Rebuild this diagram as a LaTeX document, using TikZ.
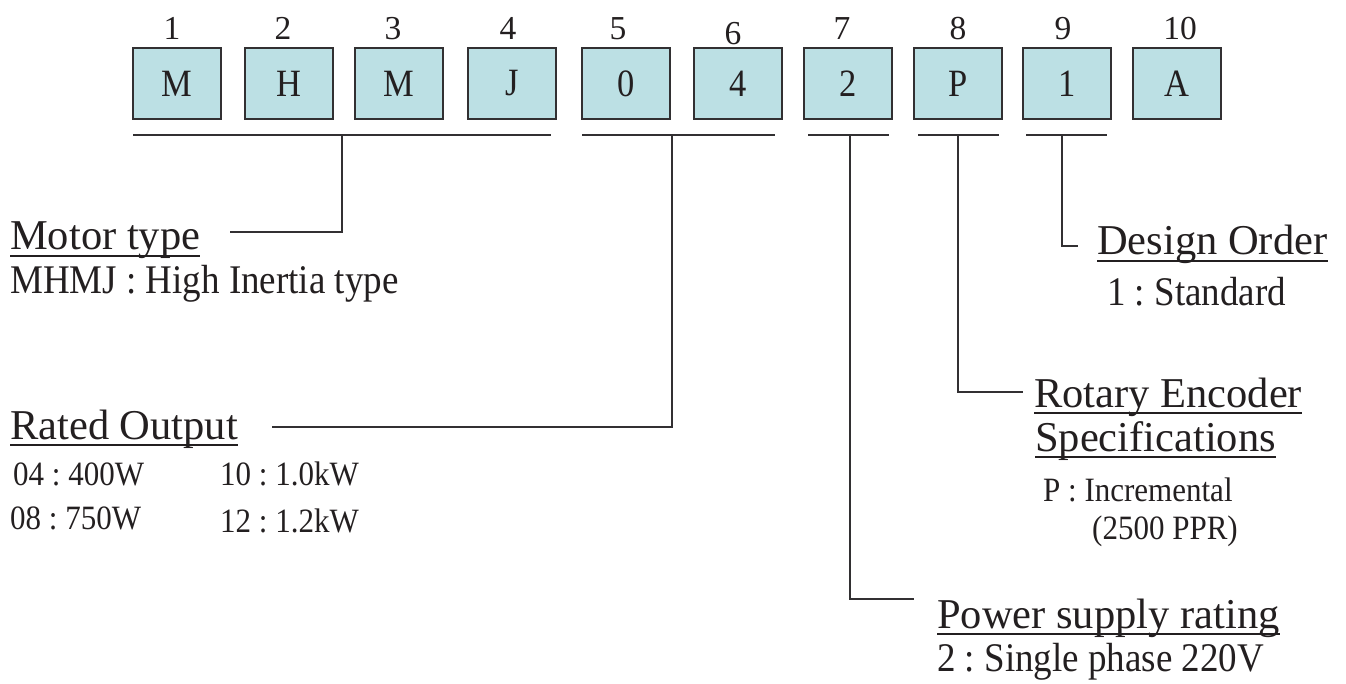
\documentclass[tikz,border=0pt]{standalone}
\usepackage{fontspec}
\usepackage{graphicx}
\setmainfont{Liberation Serif}
\frenchspacing
\definecolor{boxfill}{RGB}{188,224,228}
\definecolor{ink}{RGB}{35,31,32}
\definecolor{lin}{RGB}{50,48,50}
\newcommand{\tallA}[1]{\scalebox{1}[1.12]{#1}}
\newcommand{\tallB}[1]{\scalebox{1}[1.1]{#1}}
\begin{document}
\begin{tikzpicture}[x=1pt,y=-1pt,
  codebox/.style={draw=lin,line width=2.4pt,fill=boxfill,minimum width=88pt,minimum height=71pt,inner sep=0pt,text=ink,font=\fontsize{34.5}{40}\selectfont},
  numlbl/.style={anchor=base,inner sep=0pt,text=ink,font=\fontsize{33.5}{40}\selectfont},
  title/.style={anchor=base west,inner sep=0pt,text=ink,font=\fontsize{42.5}{50}\selectfont},
  desc/.style={anchor=base west,inner sep=0pt,text=ink,font=\fontsize{37}{44}\selectfont},
  small/.style={anchor=base west,inner sep=0pt,text=ink,font=\fontsize{31}{38}\selectfont},
  conn/.style={draw=lin,line width=2pt},
  uline/.style={draw=ink,line width=2pt}]
\useasboundingbox (0,0) rectangle (1346,684);
% boxes
\foreach \i/\x/\t in {1/133/M,2/245/H,3/355/M,4/468/J,5/582/0,6/694/4,7/804/2,8/914/P,9/1023/1,10/1133/A}{
  \node[codebox] (b\i) at (\x+44,83.5) {\tallA{\t}};
}
% position numbers
\foreach \i/\x/\y in {1/172/40,2/283/40,3/393/40,4/508/40,5/618/40,6/733/45,7/842/40,8/958/40,9/1063/40,10/1180/40}{
  \node[numlbl] (n\i) at (\x,\y) {\i};
}
% grouping bars
\coordinate (g1L) at (133,135); \coordinate (g1R) at (551,135); \coordinate (g1M) at (342,135);
\coordinate (g2L) at (582,135); \coordinate (g2R) at (775,135); \coordinate (g2M) at (672,135);
\coordinate (g3L) at (808,135); \coordinate (g3R) at (889,135); \coordinate (g3M) at (850,135);
\coordinate (g4L) at (918,135); \coordinate (g4R) at (999,135); \coordinate (g4M) at (958,135);
\coordinate (g5L) at (1026,135); \coordinate (g5R) at (1107,135); \coordinate (g5M) at (1062,135);
\foreach \g in {1,...,5}{\draw[conn] (g\g L) -- (g\g R);}
% titles and descriptions
\node[title] (motor) at (10,250) {Motor type};
\node[desc] (motord) at (10,294) {\tallB{MHMJ : High Inertia type}};
\node[title] (rated) at (10,439) {Rated Output};
\node[small] (r1) at (13,485) {\tallB{04 : 400W}};
\node[small] (r2) at (220,485) {\tallB{10 : 1.0kW}};
\node[small] (r3) at (10,529) {\tallB{08 : 750W}};
\node[small] (r4) at (220,532) {\tallB{12 : 1.2kW}};
\node[title] (design) at (1097,255) {Design Order};
\node[desc] (designd) at (1107,306) {\tallB{1 : Standard}};
\node[title] (rotary) at (1034,407) {Rotary Encoder};
\node[title] (spec) at (1035,451) {Specifications};
\node[small] (spec1) at (1043,501) {\tallB{P : Incremental}};
\node[small] (spec2) at (1092,539) {\tallB{(2500 PPR)}};
\node[title] (power) at (937,628) {Power supply rating};
\node[desc] (powerd) at (937,671) {\tallB{2 : Single phase 220V}};
% underlines
\foreach \n in {motor,rated,design,rotary,spec,power}{
  \draw[uline] ([yshift=-6pt]\n.base west) -- ([yshift=-6pt]\n.base east);
}
% connector ends
\coordinate (motorE) at (230,232);
\coordinate (ratedE) at (272,427);
\coordinate (powerE) at (914,599);
\coordinate (rotaryE) at (1023,392);
\coordinate (designE) at (1078,246);
\draw[conn] (g1M) |- (motorE);
\draw[conn] (g2M) |- (ratedE);
\draw[conn] (g3M) |- (powerE);
\draw[conn] (g4M) |- (rotaryE);
\draw[conn] (g5M) |- (designE);
\end{tikzpicture}
\end{document}
